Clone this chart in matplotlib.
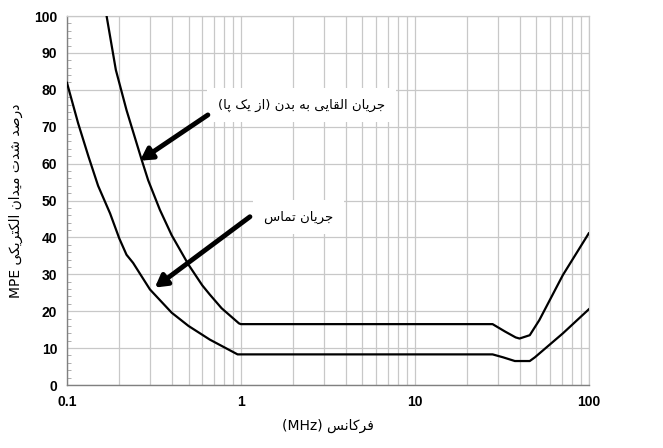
import matplotlib
matplotlib.use('Agg')
import matplotlib.pyplot as plt
from matplotlib.ticker import FixedLocator, NullFormatter, MultipleLocator

# --- data ---
induced_f = [0.169, 0.191, 0.220, 0.269, 0.293, 0.342, 0.40, 0.50, 0.60, 0.663, 0.775,
             0.975, 1.0, 28.0, 33.0, 38.0, 40.0, 45.8, 52.0, 71.0, 100.0]
induced_v = [100, 85.4, 74.5, 61.0, 55.5, 47.5, 40.6, 32.6, 27.0, 24.5, 20.8,
             16.7, 16.5, 16.5, 14.5, 12.9, 12.6, 13.5, 17.6, 29.8, 41.1]

contact_f = [0.1, 0.116, 0.133, 0.151, 0.177, 0.20, 0.22, 0.24, 0.30, 0.40, 0.50, 0.663,
             0.957, 1.0, 28.0, 32.2, 37.6, 45.8, 49.0, 71.0, 100.0]
contact_v = [81.9, 70.9, 61.9, 54.0, 46.5, 39.7, 35.3, 33.1, 25.9, 19.6, 16.0, 12.3,
             8.3, 8.3, 8.3, 7.5, 6.5, 6.5, 7.5, 14.0, 20.5]

label_induced = 'جریان القایی به بدن (از یک پا)'
label_contact = 'جریان تماس'
y_title = 'درصد شدت میدان الکتریکی'
x_title = 'فرکانس'

# --- minimal Persian shaping (matplotlib has no complex text layout) ---
FORMS = {
    'ا': ('\uFE8D', '\uFE8E', None, None),
    'ب': ('\uFE8F', '\uFE90', '\uFE91', '\uFE92'),
    'پ': ('\uFB56', '\uFB57', '\uFB58', '\uFB59'),
    'ت': ('\uFE95', '\uFE96', '\uFE97', '\uFE98'),
    'ج': ('\uFE9D', '\uFE9E', '\uFE9F', '\uFEA0'),
    'د': ('\uFEA9', '\uFEAA', None, None),
    'ر': ('\uFEAD', '\uFEAE', None, None),
    'ز': ('\uFEAF', '\uFEB0', None, None),
    'س': ('\uFEB1', '\uFEB2', '\uFEB3', '\uFEB4'),
    'ش': ('\uFEB5', '\uFEB6', '\uFEB7', '\uFEB8'),
    'ص': ('\uFEB9', '\uFEBA', '\uFEBB', '\uFEBC'),
    'ف': ('\uFED1', '\uFED2', '\uFED3', '\uFED4'),
    'ق': ('\uFED5', '\uFED6', '\uFED7', '\uFED8'),
    'ک': ('\uFB8E', '\uFB8F', '\uFB90', '\uFB91'),
    'ل': ('\uFEDD', '\uFEDE', '\uFEDF', '\uFEE0'),
    'م': ('\uFEE1', '\uFEE2', '\uFEE3', '\uFEE4'),
    'ن': ('\uFEE5', '\uFEE6', '\uFEE7', '\uFEE8'),
    'ه': ('\uFEE9', '\uFEEA', '\uFEEB', '\uFEEC'),
    'ی': ('\uFBFC', '\uFBFD', '\uFBFE', '\uFBFF'),
}


def dual(ch):
    return ch in FORMS and FORMS[ch][2] is not None


def shape_rtl(text):
    out = []
    for i, ch in enumerate(text):
        if ch not in FORMS:
            out.append(ch)
            continue
        prev = text[i - 1] if i > 0 else ''
        nxt = text[i + 1] if i + 1 < len(text) else ''
        join_prev = dual(prev)
        join_next = dual(ch) and nxt in FORMS
        iso, fin, ini, med = FORMS[ch]
        if join_prev and join_next:
            out.append(med)
        elif join_prev:
            out.append(fin)
        elif join_next:
            out.append(ini)
        else:
            out.append(iso)
    mirror = {'(': ')', ')': '('}
    return ''.join(mirror.get(c, c) for c in reversed(out))


plt.rcParams['font.family'] = ['Liberation Sans', 'DejaVu Sans']

fig = plt.figure(figsize=(6.63, 4.48), dpi=100)
ax = fig.add_axes([0.101, 0.1406, 0.787, 0.8236])

ax.plot(induced_f, induced_v, color='black', lw=1.6, zorder=3)
ax.plot(contact_f, contact_v, color='black', lw=1.6, zorder=3)

ax.set_xscale('log')
ax.set_xlim(0.1, 100)
ax.set_ylim(0, 100)

ax.xaxis.set_major_locator(FixedLocator([0.1, 1, 10, 100]))
ax.xaxis.set_major_formatter(plt.FuncFormatter(lambda v, p: f'{v:g}'))
minors = [m * d for d in (0.1, 1, 10) for m in range(2, 10)]
ax.xaxis.set_minor_locator(FixedLocator(minors))
ax.xaxis.set_minor_formatter(NullFormatter())
ax.yaxis.set_major_locator(MultipleLocator(10))
ax.yaxis.set_minor_locator(MultipleLocator(2))

ax.grid(True, which='both', axis='x', color='#c8c8c8', lw=0.9)
ax.grid(True, which='major', axis='y', color='#c8c8c8', lw=0.9)

for s in ('top', 'right'):
    ax.spines[s].set_color('#c8c8c8')
    ax.spines[s].set_linewidth(0.9)
for s in ('left', 'bottom'):
    ax.spines[s].set_color('#808080')
    ax.spines[s].set_linewidth(1.0)

ax.tick_params(axis='both', which='major', length=0, labelsize=10, pad=7)
ax.tick_params(axis='x', which='minor', length=0)
ax.tick_params(axis='y', which='minor', length=3, direction='in', color='#a0a0a0')
for lab in ax.get_xticklabels() + ax.get_yticklabels():
    lab.set_fontweight('bold')

ax.set_xlabel('(MHz) ' + shape_rtl(x_title), fontsize=10, labelpad=7,
              family=['DejaVu Sans'])
ax.set_ylabel('MPE ' + shape_rtl(y_title), fontsize=10, labelpad=8,
              family=['DejaVu Sans'])

arrow = dict(arrowstyle='-|>,head_length=0.7,head_width=0.4', color='black',
             lw=3.5, shrinkA=0, shrinkB=0)
ax.annotate('', xy=(0.263, 60.8), xytext=(0.646, 73.2), arrowprops=arrow, zorder=4)
ax.annotate('', xy=(0.320, 26.4), xytext=(1.127, 45.6), arrowprops=arrow, zorder=4)

box = dict(boxstyle='square,pad=0.8', fc='white', ec='none')
ax.text(2.23, 75.9, shape_rtl(label_induced), fontsize=9.5, ha='center', va='center',
        family=['DejaVu Sans'], bbox=box, zorder=2)
ax.text(2.14, 45.5, shape_rtl(label_contact), fontsize=9.5, ha='center', va='center',
        family=['DejaVu Sans'], bbox=box, zorder=2)

fig.savefig('out.png', dpi=100)
